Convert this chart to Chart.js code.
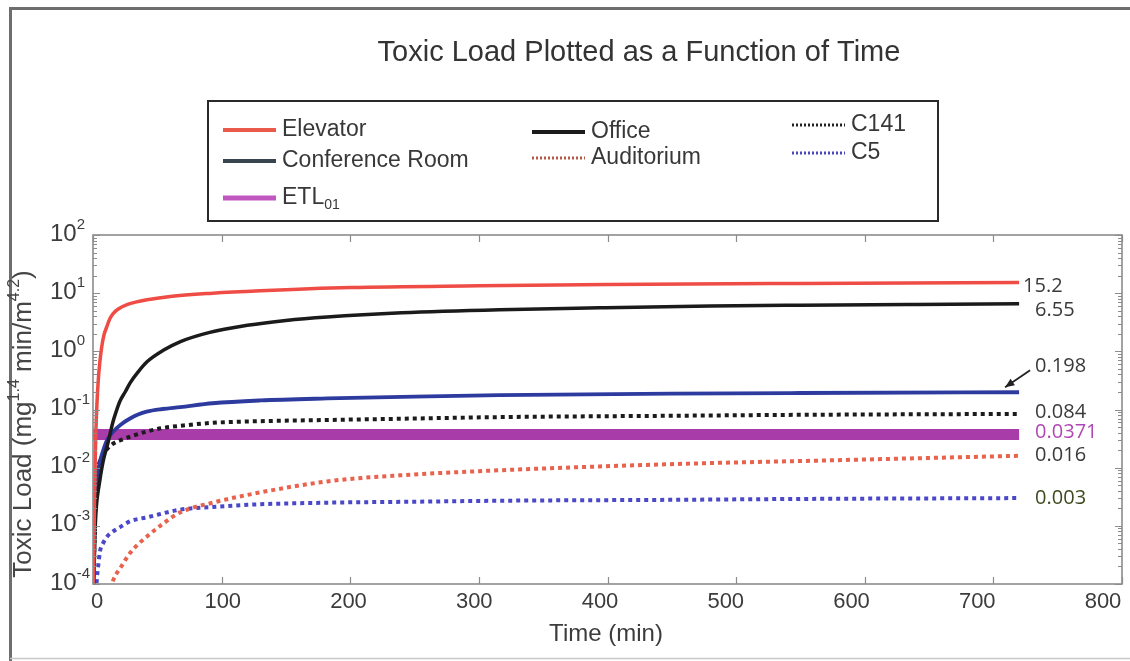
<!DOCTYPE html>
<html>
<head>
<meta charset="utf-8">
<title>Toxic Load Plotted as a Function of Time</title>
<script src="https://cdn.jsdelivr.net/npm/chart.js@4.4.1/dist/chart.umd.min.js"></script>
<style>
  html, body { margin: 0; padding: 0; background: #ffffff; }
  #wrap { width: 1130px; height: 661px; }
  canvas { display: block; }
</style>
</head>
<body>
<div id="wrap"><canvas id="c" width="1130" height="661"></canvas></div>
<script>
// ---- data (time in minutes, toxic load in mg^1.4 min/m^4.2) ----
const elevatorTime = [0.3, 0.8, 1.3, 1.8, 2.3, 3.1, 4.1, 5.3, 6.8, 8.5, 10.6, 13, 15.8, 20, 26, 33, 42, 60, 93, 130, 200, 300, 400, 550, 720];
const elevatorLoad = [0.00005, 0.0006, 0.004, 0.016, 0.045, 0.13, 0.32, 0.65, 1.2, 1.9, 2.6, 3.6, 4.5, 5.4, 6.3, 7.0, 7.7, 8.8, 10.0, 11.0, 12.5, 13.4, 14.1, 14.7, 15.2];

const officeTime = [0.4, 1, 1.6, 2.3, 3.1, 4.2, 5.4, 6.5, 7.8, 9.2, 10.9, 13, 15.6, 18, 21, 25, 29, 35, 42, 55, 68, 90, 120, 150, 182, 240, 316, 394, 480, 550, 640, 720];
const officeLoad = [0.00008, 0.00025, 0.0008, 0.0017, 0.0028, 0.0042, 0.0062, 0.0088, 0.0126, 0.017, 0.023, 0.036, 0.062, 0.092, 0.14, 0.2, 0.29, 0.44, 0.66, 1.05, 1.47, 2.1, 2.8, 3.4, 3.9, 4.6, 5.2, 5.6, 6.0, 6.2, 6.4, 6.55];

const conferenceTime = [0.5, 1.2, 2, 3, 4.1, 5.5, 8, 11, 15.8, 22, 28.8, 35, 41.7, 54, 67.7, 93, 130, 182, 250, 316, 450, 550, 720];
const conferenceLoad = [0.0001, 0.0008, 0.0025, 0.0055, 0.009, 0.013, 0.02, 0.03, 0.042, 0.056, 0.07, 0.082, 0.092, 0.102, 0.11, 0.128, 0.143, 0.155, 0.167, 0.176, 0.187, 0.192, 0.198];

const c141Time = [0.5, 1.5, 2.5, 3.5, 4.1, 5.4, 8, 11, 15.8, 22, 28.8, 42, 54, 70, 93, 130, 182, 250, 316, 450, 550, 720];
const c141Load = [0.0001, 0.0015, 0.004, 0.0075, 0.01, 0.013, 0.017, 0.021, 0.026, 0.030, 0.034, 0.042, 0.048, 0.053, 0.059, 0.063, 0.066, 0.070, 0.074, 0.078, 0.081, 0.084];

const auditoriumTime = [12, 15.8, 22, 28.8, 35, 41.7, 54.7, 67.7, 93, 120, 182, 239, 300, 394, 480, 550, 640, 720];
const auditoriumLoad = [0.00006, 0.000117, 0.0002, 0.00034, 0.00048, 0.00065, 0.0011, 0.0017, 0.0025, 0.0034, 0.0058, 0.0074, 0.0087, 0.0105, 0.012, 0.013, 0.0145, 0.016];

const c5Time = [1.5, 3.1, 4.2, 5.4, 7.8, 10.9, 15.6, 21, 28.8, 42, 68, 93, 120, 182, 250, 316, 450, 550, 720];
const c5Load = [0.00004, 0.00013, 0.00022, 0.00036, 0.0005, 0.00065, 0.0008, 0.00095, 0.0012, 0.0014, 0.0019, 0.0021, 0.0023, 0.0025, 0.0026, 0.0027, 0.0028, 0.0029, 0.003];

const etlTime = [0, 720];
const etlLoad = [0.0371, 0.0371];

const xTicks = [0, 100, 200, 300, 400, 500, 600, 700, 800];
const yExponents = [2, 1, 0, -1, -2, -3, -4];

function pts(ts, vs) { return ts.map((t, i) => ({ x: t, y: vs[i] })); }

const RED = '#ee4c44', BLACK = '#1b1b1b', BLUE = '#2d3a9e', ORANGE = '#e8624c', VIOLET = '#4a48c8', MAGENTA = '#a83ca8';

const series = [
  { key: 'elevator', label: 'Elevator', data: pts(elevatorTime, elevatorLoad), color: RED, width: 3.5, dash: [] },
  { key: 'office', label: 'Office', data: pts(officeTime, officeLoad), color: BLACK, width: 3.5, dash: [] },
  { key: 'conference', label: 'Conference Room', data: pts(conferenceTime, conferenceLoad), color: BLUE, width: 3.8, dash: [] },
  { key: 'c141', label: 'C141', data: pts(c141Time, c141Load), color: BLACK, width: 4, dash: [4, 4] },
  { key: 'auditorium', label: 'Auditorium', data: pts(auditoriumTime, auditoriumLoad), color: ORANGE, width: 4, dash: [4, 4] },
  { key: 'c5', label: 'C5', data: pts(c5Time, c5Load), color: VIOLET, width: 4, dash: [4, 4] },
  { key: 'etl', label: 'ETL01', data: pts(etlTime, etlLoad), color: MAGENTA, width: 11, dash: [] }
];

const datasets = series.map(s => ({
  label: s.label,
  data: s.data,
  borderColor: s.color,
  borderWidth: s.width,
  borderDash: s.dash,
  borderCapStyle: 'butt',
  pointRadius: 0,
  fill: false,
  cubicInterpolationMode: 'monotone',
  clip: 0
}));

const SANS = '"Liberation Sans", Arial, sans-serif';
const LABEL_FONT = '"Open Sans", "DejaVu Sans", sans-serif';

function lastVal(arr) { return arr[arr.length - 1]; }

// end-of-curve value labels
const endLabels = [
  { value: lastVal(elevatorLoad), dx: 4, dy: 4, color: '#3a3a3a' },
  { value: lastVal(officeLoad), dx: 16, dy: 6, color: '#3a3a3a' },
  { value: lastVal(conferenceLoad), dx: 16, dy: -26, color: '#3a3a3a', arrow: true },
  { value: lastVal(c141Load), dx: 16, dy: -2, color: '#3a3a3a' },
  { value: lastVal(etlLoad), dx: 16, dy: -2, color: '#b048b4' },
  { value: lastVal(auditoriumLoad), dx: 16, dy: 0, color: '#3a3a3a' },
  { value: lastVal(c5Load), dx: 16, dy: 0, color: '#3d4a1e' }
];

function drawRich(ctx, parts, x, y, baseSize) {
  // parts: [text, kind] with kind 'n' normal, 'sup' superscript, 'sub' subscript
  let cx = x;
  for (const [txt, kind] of parts) {
    const size = kind === 'n' ? baseSize : Math.round(baseSize * 0.62);
    ctx.font = size + 'px ' + SANS;
    const off = kind === 'sup' ? -baseSize * 0.38 : (kind === 'sub' ? baseSize * 0.32 : 0);
    ctx.fillText(txt, cx, y + off);
    cx += ctx.measureText(txt).width;
  }
  return cx - x;
}
function richWidth(ctx, parts, baseSize) {
  let w = 0;
  for (const [txt, kind] of parts) {
    const size = kind === 'n' ? baseSize : Math.round(baseSize * 0.62);
    ctx.font = size + 'px ' + SANS;
    w += ctx.measureText(txt).width;
  }
  return w;
}

const decor = {
  id: 'decor',
  beforeDraw(chart) {
    const ctx = chart.ctx;
    ctx.save();
    ctx.fillStyle = '#ffffff';
    ctx.fillRect(0, 0, chart.width, chart.height);
    // figure frame
    ctx.strokeStyle = '#6e6e6e';
    ctx.lineWidth = 3;
    ctx.beginPath();
    ctx.moveTo(10.5, chart.height);
    ctx.lineTo(10.5, 8.5);
    ctx.lineTo(chart.width, 8.5);
    ctx.stroke();
    ctx.strokeStyle = '#c8c8c8';
    ctx.lineWidth = 1.5;
    ctx.beginPath();
    ctx.moveTo(10, 658.5);
    ctx.lineTo(chart.width, 658.5);
    ctx.stroke();
    ctx.restore();
  },
  afterDatasetsDraw(chart) {
    const ctx = chart.ctx;
    const a = chart.chartArea;
    const xs = chart.scales.x, ys = chart.scales.y;
    ctx.save();

    // axes box
    ctx.strokeStyle = '#8c8c8c';
    ctx.lineWidth = 1.6;
    ctx.strokeRect(a.left, a.top, a.right - a.left, a.bottom - a.top);

    // x ticks (inside, bottom and top)
    ctx.lineWidth = 1.2;
    ctx.beginPath();
    for (const v of xTicks) {
      const px = Math.round(xs.getPixelForValue(v)) + 0.5;
      ctx.moveTo(px, a.bottom); ctx.lineTo(px, a.bottom - 7);
      ctx.moveTo(px, a.top); ctx.lineTo(px, a.top + 7);
    }
    // y ticks, decades and minor
    for (let e = -4; e <= 2; e++) {
      for (let m = 1; m <= 9; m++) {
        if (e === 2 && m > 1) break;
        const v = m * Math.pow(10, e);
        const py = Math.round(ys.getPixelForValue(v)) + 0.5;
        const len = m === 1 ? 7 : 4;
        ctx.moveTo(a.left, py); ctx.lineTo(a.left + len, py);
        ctx.moveTo(a.right, py); ctx.lineTo(a.right - len, py);
      }
    }
    ctx.stroke();

    // x tick labels
    ctx.fillStyle = '#3c3c3c';
    ctx.font = '22px ' + SANS;
    ctx.textAlign = 'center';
    ctx.textBaseline = 'middle';
    for (const v of xTicks) {
      const px = xs.getPixelForValue(v) + 4 - 23 * v / 800;
      ctx.fillText(String(v), px, a.bottom + 18);
    }
    ctx.font = '24px ' + SANS;
    ctx.fillText('Time (min)', 606, a.bottom + 50);

    // y tick labels 10^n
    ctx.textAlign = 'left';
    for (const e of yExponents) {
      const py = ys.getPixelForValue(Math.pow(10, e)) - 1;
      drawRich(ctx, [['10', 'n'], [String(e), 'sup']], 50, py, 24);
    }

    // y axis title
    ctx.save();
    ctx.translate(24, 424);
    ctx.rotate(-Math.PI / 2);
    const yParts = [['Toxic Load (mg', 'n'], ['1.4', 'sup'], [' min/m', 'n'], ['4.2', 'sup'], [')', 'n']];
    const yw = richWidth(ctx, yParts, 26);
    ctx.fillStyle = '#454545';
    drawRich(ctx, yParts, -yw / 2, 0, 26);
    ctx.restore();

    // end value labels
    const xEnd = xs.getPixelForValue(lastVal(etlTime));
    ctx.font = '20px ' + LABEL_FONT;
    ctx.textAlign = 'left';
    for (const l of endLabels) {
      const py = ys.getPixelForValue(l.value);
      ctx.fillStyle = l.color;
      ctx.fillText(String(l.value), xEnd + l.dx, py + l.dy);
      if (l.arrow) {
        const x1 = xEnd + 11, y1 = py - 22, x2 = xEnd - 14, y2 = py - 5;
        ctx.strokeStyle = '#222';
        ctx.lineWidth = 1.8;
        ctx.beginPath(); ctx.moveTo(x1, y1); ctx.lineTo(x2, y2); ctx.stroke();
        const ang = Math.atan2(y2 - y1, x2 - x1);
        ctx.fillStyle = '#222';
        ctx.beginPath();
        ctx.moveTo(x2, y2);
        ctx.lineTo(x2 - 10 * Math.cos(ang - 0.4), y2 - 10 * Math.sin(ang - 0.4));
        ctx.lineTo(x2 - 10 * Math.cos(ang + 0.4), y2 - 10 * Math.sin(ang + 0.4));
        ctx.closePath();
        ctx.fill();
      }
    }

    // title
    ctx.fillStyle = '#333333';
    ctx.font = '29px ' + SANS;
    ctx.textAlign = 'center';
    ctx.fillText('Toxic Load Plotted as a Function of Time', 639, 53);

    // legend
    ctx.strokeStyle = '#2a2a2a';
    ctx.lineWidth = 2;
    ctx.strokeRect(208, 101, 730, 120);
    const legendItems = [
      { text: [['Elevator', 'n']], x: 223, y: 130, color: '#ea5a4a', w: 4, dash: [] },
      { text: [['Conference Room', 'n']], x: 223, y: 161, color: '#384450', w: 4, dash: [] },
      { text: [['ETL', 'n'], ['01', 'sub']], x: 223, y: 198, color: '#c056c0', w: 5, dash: [] },
      { text: [['Office', 'n']], x: 532, y: 132, color: '#1b1b1b', w: 4, dash: [] },
      { text: [['Auditorium', 'n']], x: 532, y: 158, color: '#b45a48', w: 3, dash: [2, 2] },
      { text: [['C141', 'n']], x: 792, y: 125, color: '#222222', w: 3, dash: [2, 2] },
      { text: [['C5', 'n']], x: 792, y: 153, color: '#4a48c0', w: 3, dash: [2, 2] }
    ];
    ctx.textAlign = 'left';
    for (const it of legendItems) {
      ctx.strokeStyle = it.color;
      ctx.lineWidth = it.w;
      ctx.setLineDash(it.dash);
      ctx.beginPath(); ctx.moveTo(it.x, it.y); ctx.lineTo(it.x + 53, it.y); ctx.stroke();
      ctx.setLineDash([]);
      ctx.fillStyle = '#383838';
      drawRich(ctx, it.text, it.x + 59, it.y, 23);
    }
    ctx.restore();
  }
};

new Chart(document.getElementById('c'), {
  type: 'line',
  data: { datasets },
  options: {
    responsive: false,
    animation: false,
    devicePixelRatio: 1,
    layout: { padding: { left: 93, top: 235, right: 8, bottom: 77 } },
    scales: {
      x: { type: 'linear', min: 0, max: 800, display: false },
      y: { type: 'logarithmic', min: 0.0001, max: 100, display: false }
    },
    plugins: { legend: { display: false }, tooltip: { enabled: false } }
  },
  plugins: [decor]
});
</script>
</body>
</html>
